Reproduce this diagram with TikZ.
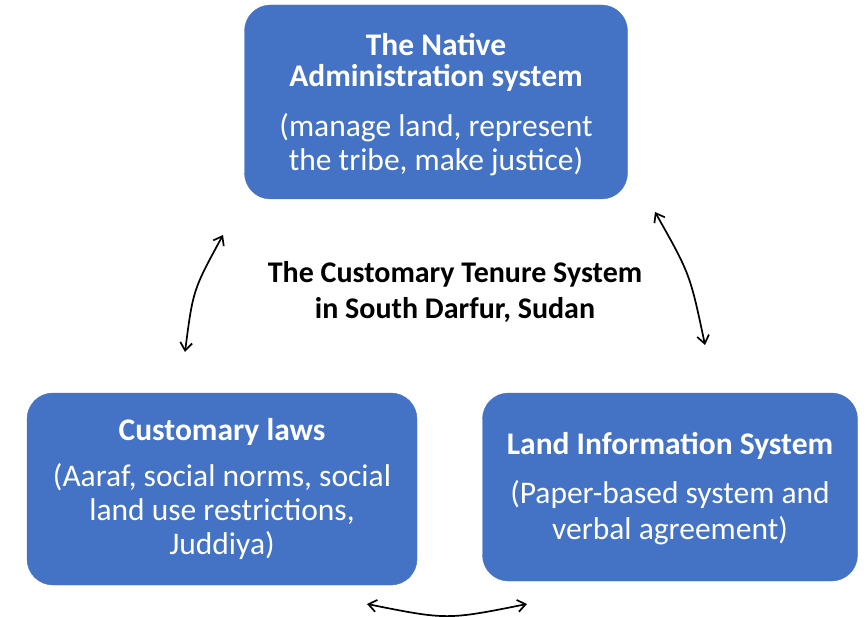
\documentclass[tikz,border=0pt]{standalone}
\usepackage{fontspec}
\setmainfont{Carlito}
\usetikzlibrary{arrows.meta}
\definecolor{boxblue}{HTML}{4472C4}
\tikzset{
  bluebox/.style={draw=boxblue, fill=boxblue, rounded corners=26pt, text=white, align=center, inner sep=0pt,
    font=\fontsize{31.5}{34}\selectfont},
  twoway/.style={line width=1.7pt, {Straight Barb[length=8pt,width=12pt]}-{Straight Barb[length=8pt,width=12pt]}},
}
\begin{document}
\begin{tikzpicture}[x=1pt,y=-1pt]
\useasboundingbox (0,0) rectangle (866,617);
\node[bluebox, minimum width=383pt, minimum height=194pt] (nas) at (436,102) {};
\node[text=white, align=center, font=\fontsize{31.5}{34}\selectfont, inner sep=0pt] (nast) at (436,105)
  {\textbf{The Native}\\[-3pt] \textbf{Administration system}\\[16pt]
   (manage land, represent\\ the tribe, make justice)};
\node[bluebox, minimum width=390pt, minimum height=192pt] (cl) at (222,489) {};
\node[text=white, align=center, font=\fontsize{31.5}{34}\selectfont, inner sep=0pt] (clt) at (222,489)
  {\textbf{Customary laws}\\[12pt]
   (Aaraf, social norms, social\\ land use restrictions,\\ Juddiya)};
\node[bluebox, minimum width=375pt, minimum height=188pt] (lis) at (670,487) {};
\node[text=white, align=center, font=\fontsize{31.5}{34}\selectfont, inner sep=0pt] (list) at (670,489)
  {\textbf{Land Information System}\\[15pt]
   (Paper-based system and\\[2pt] verbal agreement)};
\node[align=center, font=\fontsize{30}{36}\selectfont\bfseries] (ct) at (455,292)
  {The Customary Tenure System\\in South Darfur, Sudan};
\coordinate (a1) at (185,352);
\coordinate (a2) at (223,235);
\coordinate (b1) at (655,212);
\coordinate (b2) at (705,345);
\coordinate (c1) at (367,604);
\coordinate (c2) at (527,604);
\draw[twoway] (a1) .. controls (193,290) .. (a2);
\draw[twoway] (b1) .. controls (690,274) .. (b2);
\draw[twoway] (c1) .. controls (447,620) .. (c2);
\end{tikzpicture}
\end{document}
